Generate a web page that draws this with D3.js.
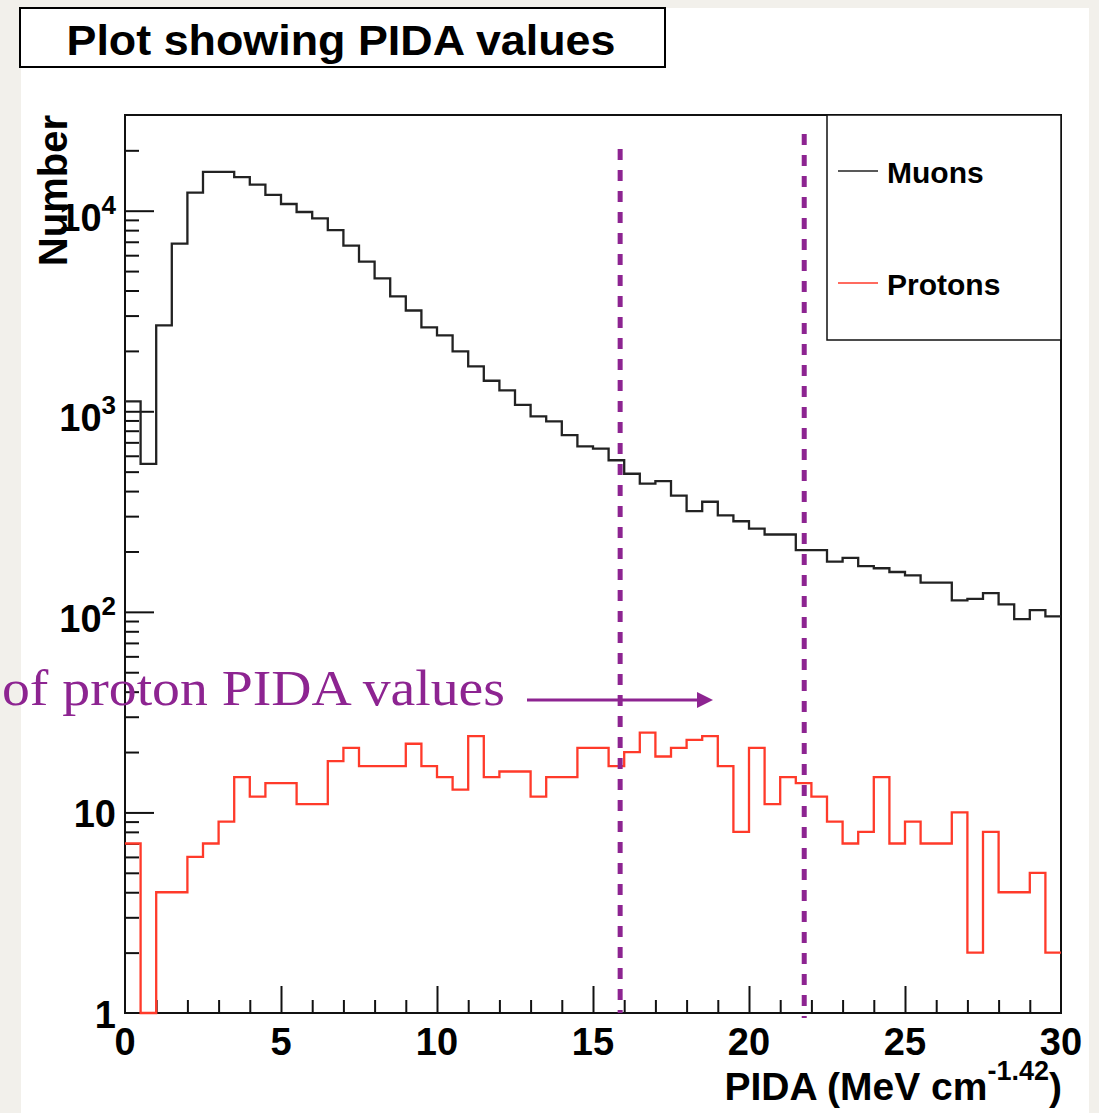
<!DOCTYPE html>
<html>
<head>
<meta charset="utf-8">
<script src="https://cdn.jsdelivr.net/npm/d3@7"></script>
<style>
  html, body { margin: 0; padding: 0; background: #f2f0eb; }
  svg { display: block; }
  text { font-family: "Liberation Sans", Arial, Helvetica, sans-serif; font-weight: bold; }
  text.note { font-family: "Palatino Linotype", Palatino, "Book Antiqua", "Liberation Serif", serif; font-weight: normal; }
</style>
</head>
<body>
<svg id="chart"></svg>
<script>
// Histogram contents: 60 bins of width 0.5 between PIDA 0 and 30
const muonCounts = [
  1120, 547, 2680, 6850, 12300, 15600, 15600, 14700, 13500, 12000,
  10800, 9850, 9150, 8000, 6700, 5570, 4600, 3740, 3180, 2620,
  2390, 1990, 1675, 1420, 1270, 1075, 944, 891, 760, 669,
  652, 570, 488, 436, 448, 380, 318, 354, 303, 283,
  260, 243, 243, 203, 203, 178, 186, 169, 165, 158,
  152, 140, 140, 114, 116, 124, 109, 92, 102, 95
];
const protonCounts = [
  7, 0, 4, 4, 6, 7, 9, 15, 12, 14,
  14, 11, 11, 18, 21, 17, 17, 17, 22, 17,
  15, 13, 24, 15, 16, 16, 12, 15, 15, 21,
  21, 17, 20, 25, 19, 21, 23, 24, 17, 8,
  21, 11, 15, 14, 12, 9, 7, 8, 15, 7,
  9, 7, 7, 10, 2, 8, 4, 4, 5, 2
];
const binWidth = 0.5;

// axis ticks and labels
const xMajorTicks = [0, 5, 10, 15, 20, 25, 30];
const yDecades = [1, 10, 100, 1000, 10000];
const yLabelBase = ["1", "10", "10", "10", "10"];
const yLabelExp = ["", "", "2", "3", "4"];

// PIDA cut values marked with dashed lines
const cutValues = [15.87, 21.77];

const seriesNames = ["Muons", "Protons"];
const seriesColors = ["#222222", "#ff3a2a"];

const W = 1099, H = 1113;
const plot = { left: 125, right: 1061, top: 115, bottom: 1013 };
const purple = "#8d2491";

const svg = d3.select("#chart")
  .attr("width", W)
  .attr("height", H);

// white canvas over the beige page
svg.append("rect")
  .attr("x", 21).attr("y", 8)
  .attr("width", 1068).attr("height", H - 8)
  .attr("fill", "#ffffff");

const x = d3.scaleLinear()
  .domain([0, 30])
  .range([plot.left, plot.right]);

const y = d3.scaleLog()
  .domain([1, 30000])
  .range([plot.bottom, plot.top]);

// Title box
svg.append("rect")
  .attr("x", 20).attr("y", 8)
  .attr("width", 645).attr("height", 59)
  .attr("fill", "#fff")
  .attr("stroke", "#000")
  .attr("stroke-width", 2);

svg.append("text")
  .attr("x", 341).attr("y", 55)
  .attr("text-anchor", "middle")
  .attr("font-size", 42)
  .attr("textLength", 549)
  .attr("lengthAdjust", "spacingAndGlyphs")
  .text("Plot showing PIDA values");

// Axes - ROOT style ticks pointing into the frame
const yMinor = [];
yDecades.forEach(d => {
  for (let k = 2; k <= 9; k++) {
    if (d * k < 30000) yMinor.push(d * k);
  }
});

svg.append("g")
  .attr("transform", `translate(${plot.left},0)`)
  .call(d3.axisLeft(y).tickValues(yMinor).tickSize(-14).tickSizeOuter(0).tickFormat(""))
  .call(a => a.select(".domain").remove());

svg.append("g")
  .attr("transform", `translate(${plot.left},0)`)
  .call(d3.axisLeft(y).tickValues(yDecades.slice(1)).tickSize(-29).tickSizeOuter(0).tickFormat(""))
  .call(a => a.select(".domain").remove());

const xMinor = d3.range(1, 30).filter(v => v % 5 !== 0);

svg.append("g")
  .attr("transform", `translate(0,${plot.bottom})`)
  .call(d3.axisBottom(x).tickValues(xMinor).tickSize(-13).tickSizeOuter(0).tickFormat(""))
  .call(a => a.select(".domain").remove());

svg.append("g")
  .attr("transform", `translate(0,${plot.bottom})`)
  .call(d3.axisBottom(x).tickValues(xMajorTicks.slice(1, -1)).tickSize(-27).tickSizeOuter(0).tickFormat(""))
  .call(a => a.select(".domain").remove());

svg.selectAll(".tick line")
  .attr("stroke", "#111")
  .attr("stroke-width", 2);

// Frame
svg.append("rect")
  .attr("x", plot.left).attr("y", plot.top)
  .attr("width", plot.right - plot.left)
  .attr("height", plot.bottom - plot.top)
  .attr("fill", "none")
  .attr("stroke", "#111")
  .attr("stroke-width", 2);

// Histograms as step lines (drawn over the frame, like ROOT does)
const stepLine = d3.line()
  .x(d => x(d.x))
  .y(d => y(Math.max(d.v, 1)))
  .curve(d3.curveStepAfter);

function histPoints(counts) {
  const pts = counts.map((v, i) => ({ x: i * binWidth, v }));
  pts.push({ x: counts.length * binWidth, v: counts[counts.length - 1] });
  return pts;
}

const g = svg.append("g");

[muonCounts, protonCounts].forEach((counts, i) => {
  g.append("path")
    .datum(histPoints(counts))
    .attr("d", stepLine)
    .attr("fill", "none")
    .attr("stroke", seriesColors[i])
    .attr("stroke-width", 2.3);
});

// Tick labels
svg.selectAll(".xlab")
  .data(xMajorTicks)
  .enter()
  .append("text")
  .attr("class", "xlab")
  .attr("x", d => x(d))
  .attr("y", 1055)
  .attr("text-anchor", "middle")
  .attr("font-size", 38)
  .text(d => d);

yDecades.forEach((d, i) => {
  const t = svg.append("text")
    .attr("x", 116)
    .attr("y", y(d) + (yLabelExp[i] ? 20 : 15))
    .attr("text-anchor", "end")
    .attr("font-size", 38)
    .text(yLabelBase[i]);
  if (yLabelExp[i]) {
    t.append("tspan")
      .attr("font-size", 26)
      .attr("dy", -17)
      .text(yLabelExp[i]);
  }
});

// Axis titles
svg.append("text")
  .attr("transform", "translate(67,115) rotate(-90)")
  .attr("text-anchor", "end")
  .attr("font-size", 40)
  .text("Number");

const xt = svg.append("text")
  .attr("x", 1062)
  .attr("y", 1100)
  .attr("text-anchor", "end")
  .attr("font-size", 39)
  .text("PIDA (MeV cm");
xt.append("tspan").attr("font-size", 27).attr("dy", -20).text("-1.42");
xt.append("tspan").attr("font-size", 39).attr("dy", 20).text(")");

// Legend
svg.append("rect")
  .attr("x", 827).attr("y", plot.top)
  .attr("width", plot.right - 827).attr("height", 225)
  .attr("fill", "#fff")
  .attr("stroke", "#111")
  .attr("stroke-width", 1.5);

const legendY = [171, 283];
seriesNames.forEach((name, i) => {
  svg.append("line")
    .attr("x1", 838).attr("x2", 878)
    .attr("y1", legendY[i]).attr("y2", legendY[i])
    .attr("stroke", seriesColors[i])
    .attr("stroke-width", 1.5);
  svg.append("text")
    .attr("x", 887)
    .attr("y", legendY[i] + 12)
    .attr("font-size", 30)
    .text(name);
});

// Dashed cut lines
const cutTop = [149, 134];
const cutBottom = [1013, 1018];
cutValues.forEach((c, i) => {
  svg.append("line")
    .attr("x1", x(c)).attr("x2", x(c))
    .attr("y1", cutTop[i]).attr("y2", cutBottom[i])
    .attr("stroke", purple)
    .attr("stroke-width", 5)
    .attr("stroke-dasharray", "11,10");
});

// Annotation with arrow (kept inside the page so no glyph is clipped)
svg.append("text")
  .attr("class", "note")
  .attr("x", 2)
  .attr("y", 705)
  .attr("font-size", 50)
  .attr("fill", purple)
  .attr("textLength", 503)
  .attr("lengthAdjust", "spacingAndGlyphs")
  .text("of proton PIDA values");

svg.append("line")
  .attr("x1", 527).attr("x2", 700)
  .attr("y1", 700).attr("y2", 700)
  .attr("stroke", purple)
  .attr("stroke-width", 3);

svg.append("path")
  .attr("d", "M697,692 L713,700 L697,708 Z")
  .attr("fill", purple);
</script>
</body>
</html>
